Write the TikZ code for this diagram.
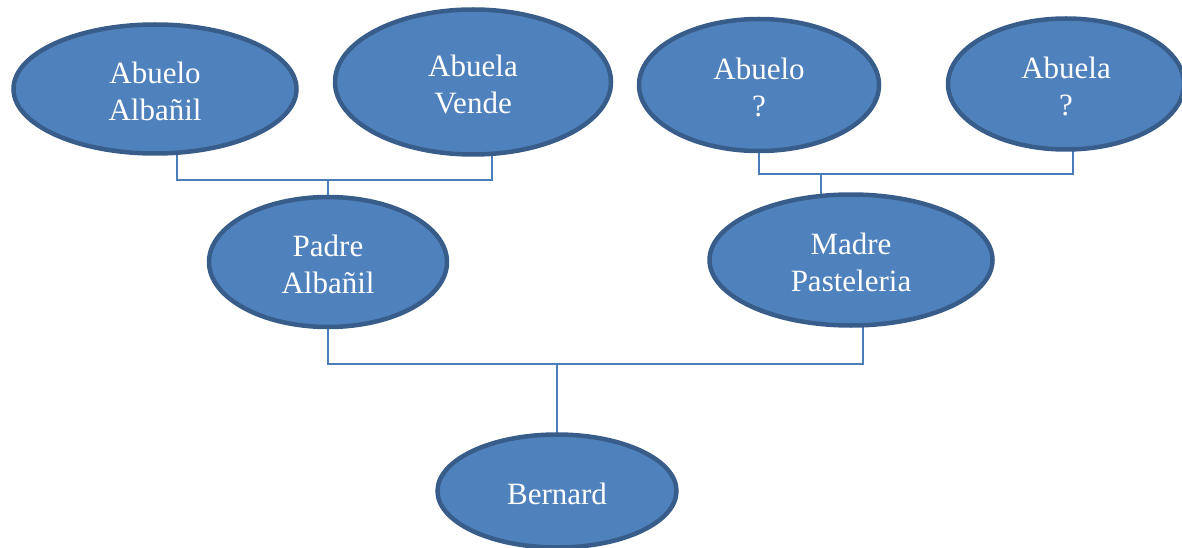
\documentclass[tikz,border=0pt]{standalone}
\usepackage{fontspec}
\setmainfont{Liberation Serif}
\usetikzlibrary{shapes.geometric,backgrounds}
\definecolor{famfill}{HTML}{4F81BD}
\definecolor{famline}{HTML}{385D8A}
\definecolor{connline}{HTML}{4A7EBB}
\newcommand\famstrut{\rule{0pt}{26.5pt}}
\begin{document}
\begin{tikzpicture}[x=1pt,y=-1pt,
  person/.style={ellipse, draw=famline, line width=4.5pt, fill=famfill,
    inner sep=0pt, text=white, align=center,
    font=\fontsize{31}{36.5}\selectfont},
  conn/.style={draw=connline, line width=1.6pt}]
\useasboundingbox (0,0) rectangle (1182,548);
\clip (0,0) rectangle (1182,548);
\node[person, minimum width=283pt, minimum height=129pt] (a1) at (155,89) {\famstrut Abuelo\\Albañil};
\node[person, minimum width=276pt, minimum height=145pt] (a2) at (473,82) {\famstrut Abuela\\Vende};
\node[person, minimum width=240pt, minimum height=132pt] (a3) at (759,85) {\famstrut Abuelo\\?};
\node[person, minimum width=236pt, minimum height=131pt] (a4) at (1066,84) {\famstrut Abuela\\?};
\node[person, minimum width=238pt, minimum height=130pt] (pa) at (328,262) {\famstrut Padre\\Albañil};
\node[person, minimum width=283pt, minimum height=131pt] (ma) at (851,260) {\famstrut Madre\\Pasteleria};
\node[person, minimum width=239pt, minimum height=113pt] (be) at (557,491) {\rule{0pt}{28pt}Bernard};
\coordinate (j1) at (328,180);
\coordinate (j2) at (821,174);
\coordinate (j3) at (557,364);
\begin{scope}[on background layer]
\draw[conn] ([xshift=22pt]a1.center) |- (j1) -| ([xshift=19pt]a2.center);
\draw[conn] (j1) -- (pa.center);
\draw[conn] (a3.center) |- (j2) -| ([xshift=7pt]a4.center);
\draw[conn] (j2) -- (j2 |- ma.center);
\draw[conn] (pa.center) |- (j3) -| ([xshift=12pt]ma.center);
\draw[conn] (j3) -- (be.center);
\end{scope}
\end{tikzpicture}
\end{document}
